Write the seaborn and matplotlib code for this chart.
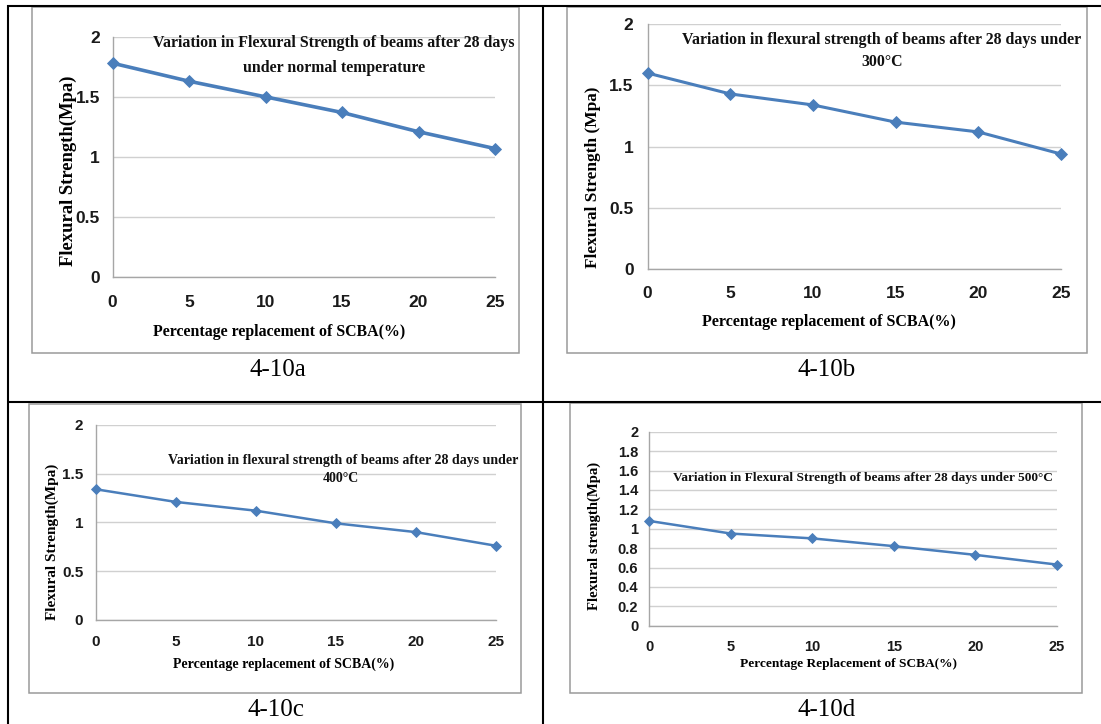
import matplotlib
matplotlib.use("Agg")
import numpy as np
import pandas as pd
import seaborn as sns
import matplotlib.pyplot as plt
from matplotlib import font_manager
from matplotlib.patches import Rectangle
from matplotlib.lines import Line2D

# ---------------- data ----------------
replacement = [0, 5, 10, 15, 20, 25]
strength_normal = [1.78, 1.63, 1.50, 1.37, 1.21, 1.07]
strength_300 = [1.60, 1.43, 1.34, 1.20, 1.12, 0.94]
strength_400 = [1.34, 1.21, 1.12, 0.99, 0.90, 0.76]
strength_500 = [1.08, 0.95, 0.90, 0.82, 0.73, 0.63]

yticks_half = [0, 0.5, 1, 1.5, 2]
yticklabels_half = ["0", "0.5", "1", "1.5", "2"]
yticks_fifth = [0, 0.2, 0.4, 0.6, 0.8, 1.0, 1.2, 1.4, 1.6, 1.8, 2.0]
yticklabels_fifth = ["0", "0.2", "0.4", "0.6", "0.8", "1", "1.2", "1.4", "1.6", "1.8", "2"]

titles = [
    ["Variation in Flexural Strength of beams after 28 days", "under normal temperature"],
    ["Variation in flexural strength of beams after 28 days under", "300°C"],
    ["Variation in flexural strength of beams after 28 days under", "400°C"],
    ["Variation in Flexural Strength of beams after 28 days under 500°C"],
]
ylabels = ["Flexural Strength(Mpa)", "Flexural Strength (Mpa)",
           "Flexural Strength(Mpa)", "Flexural strength(Mpa)"]
xlabels = ["Percentage replacement of SCBA(%)", "Percentage replacement of SCBA(%)",
           "Percentage replacement of SCBA(%)", "Percentage Replacement of SCBA(%)"]
captions = ["4-10a", "4-10b", "4-10c", "4-10d"]

# ---------------- style ----------------
sns.set_style("white")
avail = {f.name for f in font_manager.fontManager.ttflist}
TICK_FONT = "Liberation Sans Narrow" if "Liberation Sans Narrow" in avail else "Liberation Sans"
SERIF = "Liberation Serif"
plt.rcParams["font.family"] = [SERIF, "DejaVu Sans"]

W, H = 1101, 724
fig = plt.figure(figsize=(W / 100, H / 100), dpi=100)
fig.patch.set_facecolor("white")


def fx(px):
    return px / W


def fy(py):
    return 1 - py / H


LINE_COLOR = "#4A7EBB"
GRID = "#d0d0d0"
AXIS = "#a6a6a6"

panels = [
    dict(values=strength_normal, ax=(112.5, 36.7, 495, 277.3), frame=(31.7, 7, 519.3, 352.7),
         yt=(yticks_half, yticklabels_half), lw=2.6, ms=6.3, tfs=12.5, xpad=9, ypad=5,
         title_pos=[(333.5, 43.3), (334, 68.3)], title_w=361,
         ylab=(68, 171, 190), xlab=(279, 332, 252), cap=(278, 370)),
    dict(values=strength_300, ax=(647.5, 24, 1061, 269.3), frame=(566.7, 7, 1086.7, 352.7),
         yt=(yticks_half, yticklabels_half), lw=2.2, ms=5.8, tfs=12.5, xpad=8, ypad=6,
         title_pos=[(882, 40), (882, 61.7)], title_w=400,
         ylab=(593, 177.5, 180), xlab=(829, 321.7, 253), cap=(827, 370)),
    dict(values=strength_400, ax=(95.7, 425, 495.7, 619.7), frame=(29, 404, 520.7, 693),
         yt=(yticks_half, yticklabels_half), lw=1.8, ms=5.3, tfs=11, xpad=7, ypad=5,
         title_pos=[(343, 460), (340.6, 478.7)], title_w=348,
         ylab=(52, 542, 155), xlab=(284, 664, 220), cap=(276, 710)),
    dict(values=strength_500, ax=(649.3, 431.7, 1057, 625.7), frame=(570, 403, 1082, 693),
         yt=(yticks_fifth, yticklabels_fifth), lw=1.8, ms=5.0, tfs=10.5, xpad=6, ypad=4,
         title_pos=[(863, 477.7)], title_w=380,
         ylab=(594, 536, 148), xlab=(848, 664, 216), cap=(827, 710)),
]

renderer = fig.canvas.get_renderer()


def fit(t, target, use_height=False):
    bb = t.get_window_extent(renderer)
    size = bb.height if use_height else bb.width
    if size > 0:
        t.set_fontsize(t.get_fontsize() * target / size)


# grey chart frames
for p in panels:
    l, t, r, b = p["frame"]
    fig.add_artist(Rectangle((fx(l), fy(b)), (r - l) / W, (b - t) / H,
                             transform=fig.transFigure, facecolor="none",
                             edgecolor="#9a9a9a", lw=1.1, zorder=-5))

for i, p in enumerate(panels):
    l, t, r, b = p["ax"]
    ax = fig.add_axes([fx(l), fy(b), (r - l) / W, (b - t) / H])
    ax.set_facecolor("none")
    df = pd.DataFrame({"pct": replacement, "strength": p["values"]})
    sns.lineplot(data=df, x="pct", y="strength", ax=ax, color=LINE_COLOR,
                 linewidth=p["lw"], marker="D", markersize=p["ms"],
                 markeredgewidth=0.6, markeredgecolor=LINE_COLOR, clip_on=False, zorder=5)
    ax.set_xlim(0, 25)
    ax.set_ylim(0, 2)
    ax.set_xticks(replacement)
    ax.set_xticklabels([str(v) for v in replacement])
    ax.set_yticks(p["yt"][0])
    ax.set_yticklabels(p["yt"][1])
    ax.yaxis.grid(True, color=GRID, lw=1.0)
    ax.xaxis.grid(False)
    for s in ["top", "right"]:
        ax.spines[s].set_visible(False)
    for s in ["left", "bottom"]:
        ax.spines[s].set_color(AXIS)
        ax.spines[s].set_linewidth(1.0)
    ax.tick_params(axis="x", length=4, width=1, color=AXIS, direction="out", pad=p["xpad"])
    ax.tick_params(axis="y", length=4, width=1, color=AXIS, direction="out", pad=p["ypad"])
    for lbl in ax.get_xticklabels() + ax.get_yticklabels():
        lbl.set_fontfamily(TICK_FONT)
        lbl.set_fontweight("bold")
        lbl.set_fontsize(p["tfs"])
        lbl.set_color("#1a1a1a")

    # axis labels
    ax.set_xlabel(xlabels[i], fontfamily=SERIF, fontweight="bold", fontsize=12, color="black")
    ax.set_ylabel(ylabels[i], fontfamily=SERIF, fontweight="bold", fontsize=12, color="black")
    xl = ax.xaxis.label
    yl = ax.yaxis.label
    xl.set_va("center")
    yl.set_va("center")
    cx, cy, wx = p["xlab"]
    ax.xaxis.set_label_coords(fx(cx), fy(cy), transform=fig.transFigure)
    fit(xl, wx)
    cx, cy, ly = p["ylab"]
    ax.yaxis.set_label_coords(fx(cx), fy(cy), transform=fig.transFigure)
    fit(yl, ly, use_height=True)

    # title text inside chart
    tlines = []
    for (tx, ty), line in zip(p["title_pos"], titles[i]):
        tt = fig.text(fx(tx), fy(ty), line, ha="center", va="center",
                      fontfamily=SERIF, fontweight="bold", fontsize=11, color="#111111")
        tlines.append(tt)
    bb = tlines[0].get_window_extent(renderer)
    scale = p["title_w"] / bb.width
    for tt in tlines:
        tt.set_fontsize(11 * scale)

    # caption below chart
    fig.text(fx(p["cap"][0]), fy(p["cap"][1]), captions[i], ha="center", va="center",
             fontfamily=SERIF, fontsize=18, color="black")

# table rules
def hline(y, x0, x1):
    fig.add_artist(Line2D([fx(x0), fx(x1)], [fy(y), fy(y)], transform=fig.transFigure,
                          color="black", lw=1.5, solid_capstyle="butt"))


def vline(x, y0, y1):
    fig.add_artist(Line2D([fx(x), fx(x)], [fy(y0), fy(y1)], transform=fig.transFigure,
                          color="black", lw=1.5, solid_capstyle="butt"))


hline(6, 7, W)
hline(401.5, 7, W)
vline(8, 5, H)
vline(543, 5, H)

fig.savefig("out.png", dpi=100, facecolor="white")
